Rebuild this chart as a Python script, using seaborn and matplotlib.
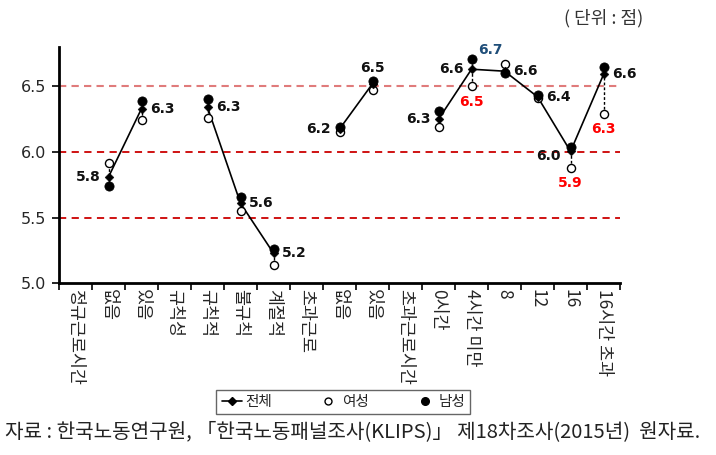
import numpy as np
import pandas as pd
import matplotlib
matplotlib.use("Agg")
import matplotlib.pyplot as plt
import seaborn as sns
from matplotlib.lines import Line2D

sns.set_theme(style="white")
plt.rcParams['font.family'] = ['Noto Sans CJK KR', 'DejaVu Sans']

categories = ["정규근로시간", "없음", "있음", "규칙성", "규칙적", "불규칙", "계절적",
              "초과근로", "없음", "있음", "초과근로시간", "0시간", "4시간 미만",
              "8", "12", "16", "16시간 초과"]
segments = [0, 1, 1, 2, 3, 3, 3, 4, 5, 5, 6, 7, 7, 7, 7, 7, 7]
total = [np.nan, 5.81, 6.33, np.nan, 6.34, 5.61, 5.23, np.nan, 6.175, 6.52,
         np.nan, 6.25, 6.63, 6.615, 6.42, 6.005, 6.59]
female = [np.nan, 5.92, 6.24, np.nan, 6.26, 5.55, 5.14, np.nan, 6.15, 6.47,
          np.nan, 6.19, 6.50, 6.67, 6.41, 5.88, 6.29]
male = [np.nan, 5.74, 6.39, np.nan, 6.40, 5.66, 5.26, np.nan, 6.19, 6.54,
        np.nan, 6.31, 6.71, 6.60, 6.43, 6.04, 6.65]
total_labels = [None, "5.8", "6.3", None, "6.3", "5.6", "5.2", None, "6.2", "6.5",
                None, "6.3", "6.6", "6.6", "6.4", "6.0", "6.6"]
# label placement: l=left, r=right, t=top
total_label_pos = [None, "l", "r", None, "r", "r", "r", None, "l", "t",
                   None, "l", "l", "r", "r", "lb", "r"]
female_red = {12: "6.5", 15: "5.9", 16: "6.3"}
male_blue = {12: "6.7"}

df = pd.DataFrame({"pos": np.arange(len(categories)), "seg": segments,
                   "전체": total, "여성": female, "남성": male})

fig = plt.figure(figsize=(7.16, 4.55), dpi=100)
ax = fig.add_axes([0.0824, 0.377, 0.7836, 0.52])

# red dashed reference lines
ax.axhline(6.5, color="#E07B7B", lw=1.5, ls=(0, (3.5, 2.5)), zorder=0)
ax.axhline(6.0, color="#CC0000", lw=1.3, ls=(0, (4, 3)), zorder=0)
ax.axhline(5.5, color="#CC0000", lw=1.3, ls=(0, (4, 3)), zorder=0)

# high-low dashed lines between female and male
d = df.dropna()
ax.vlines(d["pos"], d[["여성", "남성"]].min(axis=1), d[["여성", "남성"]].max(axis=1),
          colors="black", lw=1, linestyles=(0, (2, 1.5)), zorder=1)

sns.lineplot(data=df.dropna(), x="pos", y="전체", units="seg", estimator=None,
             color="black", lw=1.2, ax=ax, zorder=2)
sns.scatterplot(data=df, x="pos", y="여성", marker="o", s=34, facecolor="white",
                edgecolor="black", linewidth=1.0, ax=ax, zorder=3)
sns.scatterplot(data=df, x="pos", y="남성", marker="o", s=44, color="black",
                edgecolor="black", ax=ax, zorder=4)
sns.scatterplot(data=df, x="pos", y="전체", marker="D", s=20, color="black",
                edgecolor="black", ax=ax, zorder=5)

# labels
for i, (v, lab, p) in enumerate(zip(total, total_labels, total_label_pos)):
    if lab is None:
        continue
    kw = dict(textcoords="offset points", fontsize=10, fontweight="bold",
              family="DejaVu Sans", color="#111111")
    if p == "l":
        ax.annotate(lab, (i, v), xytext=(-6, 0), ha="right", va="center", **kw)
    elif p == "lb":
        ax.annotate(lab, (i, v), xytext=(-7, -3), ha="right", va="center", **kw)
    elif p == "r":
        ax.annotate(lab, (i, v), xytext=(6, 0), ha="left", va="center", **kw)
    else:
        ax.annotate(lab, (i, v), xytext=(0, 6), ha="center", va="bottom", **kw)
for i, lab in female_red.items():
    ax.annotate(lab, (i, female[i]), xytext=(0, -6), textcoords="offset points",
                ha="center", va="top", fontsize=10, fontweight="bold",
                color="#FF0000", family="DejaVu Sans")
for i, lab in male_blue.items():
    ax.annotate(lab, (i, male[i]), xytext=(5, 1), textcoords="offset points",
                ha="left", va="bottom", fontsize=10, fontweight="bold",
                color="#1F4E79", family="DejaVu Sans")

ax.set_xlim(-0.5, len(categories) - 0.5)
ax.set_ylim(5.0, 6.8)
ax.set_yticks([5.0, 5.5, 6.0, 6.5])
ax.set_yticklabels(["5.0", "5.5", "6.0", "6.5"], fontsize=11.5, family="DejaVu Sans")
ax.set_xticks(np.arange(-0.5, len(categories), 1.0))
ax.set_xticklabels([])
ax.set_xticks(np.arange(len(categories)), minor=True)
ax.set_xticklabels(categories, minor=True, rotation=270, fontsize=12.5,
                   va="top", ha="center")
ax.tick_params(axis="x", which="major", direction="out", length=5, width=1.2,
               bottom=True, color="black")
ax.tick_params(axis="x", which="minor", length=0, pad=4)
ax.tick_params(axis="y", direction="out", length=5, width=1.2, left=True,
               color="black", pad=4)
ax.set_xlabel("")
ax.set_ylabel("")
for s in ["top", "right"]:
    ax.spines[s].set_visible(False)
for s in ["left", "bottom"]:
    ax.spines[s].set_color("black")
    ax.spines[s].set_linewidth(2)

handles = [
    Line2D([], [], color="black", marker="D", markersize=4, lw=1.2),
    Line2D([], [], color="none", marker="o", markersize=5, markerfacecolor="white",
           markeredgecolor="black"),
    Line2D([], [], color="none", marker="o", markersize=5.5, markerfacecolor="black",
           markeredgecolor="black"),
]
leg = fig.legend(handles, ["전체", "여성", "남성"], loc="center",
                 bbox_to_anchor=(0.4795, 1 - 402 / 455), ncol=3, frameon=True,
                 fancybox=False, edgecolor="#404040", fontsize=10.5,
                 handlelength=1.4, handletextpad=0.2, columnspacing=3.2,
                 borderpad=0.35)
leg.get_frame().set_linewidth(1.0)

fig.text(0.898, 1 - 18 / 455, "( 단위 : 점)", ha="right", va="center",
         fontsize=13, color="#333333")
fig.text(0.007, 1 - 432 / 455,
         "자료 : 한국노동연구원, 「한국노동패널조사(KLIPS)」 제18차조사(2015년)  원자료.",
         ha="left", va="center", fontsize=14.5, color="#222222")

fig.savefig("out.png", dpi=100)
